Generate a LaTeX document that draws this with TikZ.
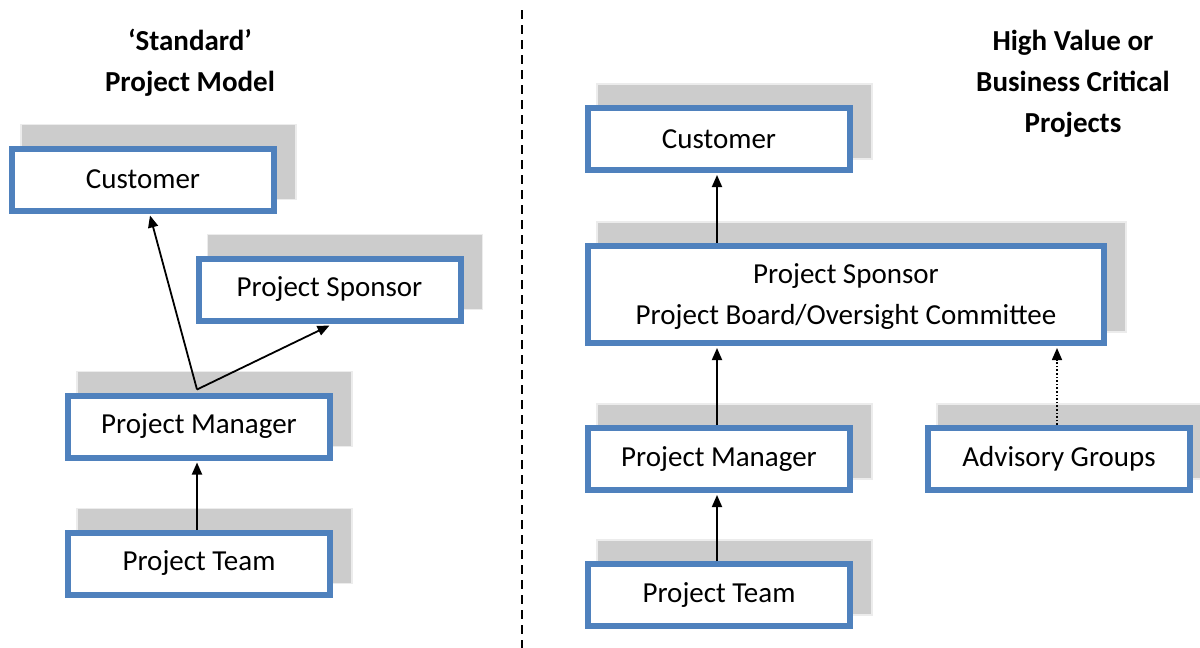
\documentclass[tikz,border=0pt]{standalone}
\usepackage{fontspec}
\setmainfont{Carlito}
\usetikzlibrary{arrows.meta,backgrounds}
\definecolor{boxblue}{HTML}{4F81BD}
\newcommand{\dropshade}[1]{\begin{pgfonlayer}{background}\path[dropfill] ([shift={(12,-21)}]#1.north west) rectangle ([shift={(19,-14)}]#1.south east);\end{pgfonlayer}}
\begin{document}
\begin{tikzpicture}[x=1pt,y=-1pt,
 box/.style={draw=boxblue,line width=6pt,fill=white,minimum width=262pt,minimum height=62pt,inner sep=0pt,font=\fontsize{29}{41}\selectfont,align=center},
 arr/.style={line width=1.8pt,-{Triangle[length=12pt,width=10pt]}},
 dotarr/.style={line width=1.6pt,dotted,-{Triangle[length=12pt,width=10pt]}},
 title/.style={font=\fontsize{29}{41}\selectfont\bfseries,align=center},
 dropfill/.style={fill=gray!40,draw=gray!15,line width=1.5pt},
 divider/.style={line width=2pt,dash pattern=on 9pt off 6pt}]
\useasboundingbox (0,0) rectangle (1200,648);
% titles
\node[title] (tl) at (190,63) {‘Standard’\\Project Model};
\node[title] (tr) at (1073,84) {High Value or\\Business Critical\\Projects};
% divider
\coordinate (dtop) at (522,10);
\coordinate (dbot) at (522,648);
\draw[divider] (dtop) -- (dbot);
% left boxes
\node[box] (custL) at (143,179.5) {Customer};
\node[box] (sponL) at (329.5,289.5) {Project Sponsor};
\node[box] (pmL) at (199,426.5) {Project Manager};
\node[box] (ptL) at (199,563.5) {Project Team};
% right boxes
\node[box] (custR) at (719,139) {Customer};
\node[box,minimum width=516pt,minimum height=97pt] (sponR) at (846,294.5) {\rule{0pt}{24pt}Project Sponsor\\Project Board/Oversight Committee};
\node[box] (pmR) at (719,459) {Project Manager};
\node[box] (advR) at (1059,459) {Advisory Groups};
\node[box] (ptR) at (719,595) {Project Team};
% shadows
\dropshade{custL}\dropshade{sponL}\dropshade{pmL}\dropshade{ptL}
\dropshade{custR}\dropshade{sponR}\dropshade{pmR}\dropshade{advR}\dropshade{ptR}
% arrows left
\draw[arr] ([xshift=-2pt,yshift=3pt]pmL.north) -- ([xshift=7pt,yshift=-2pt]custL.south);
\draw[arr] ([xshift=-2pt,yshift=3pt]pmL.north) -- ([yshift=-2pt]sponL.south);
\draw[arr] ([xshift=-2pt]ptL.north) -- ([xshift=-2pt,yshift=-2pt]pmL.south);
% arrows right
\draw[arr] ([xshift=-2pt]sponR.north -| custR.south) -- ([xshift=-2pt,yshift=-2pt]custR.south);
\draw[arr] ([xshift=-2pt]pmR.north) -- ([xshift=-2pt,yshift=-2pt]sponR.south -| pmR.north);
\draw[arr] ([xshift=-2pt]ptR.north) -- ([xshift=-2pt,yshift=-2pt]pmR.south);
\draw[dotarr] ([xshift=-2pt]advR.north) -- ([xshift=-2pt,yshift=-2pt]sponR.south -| advR.north);
\end{tikzpicture}
\end{document}
